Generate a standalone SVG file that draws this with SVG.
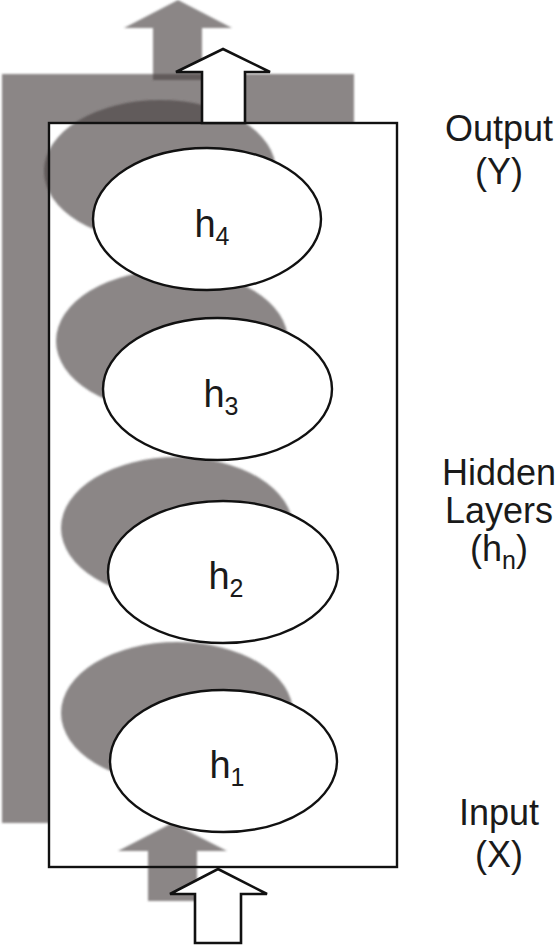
<svg xmlns="http://www.w3.org/2000/svg" width="559" height="945" viewBox="0 0 559 945">
<style>
.g{fill:#484444;fill-opacity:.64;stroke:none}
.node{fill:#fff;stroke:#111;stroke-width:2.4}
.arw{fill:#fff;stroke:#111;stroke-width:2.6;stroke-linejoin:miter}
.lbl{font-family:"Liberation Sans",Arial,sans-serif;font-size:36px;fill:#1a1a1a;text-anchor:middle}
.hl{font-size:38px}
.sub{font-size:25px}
</style>
<defs>
<filter id="soft" x="-5%" y="-5%" width="110%" height="110%"><feGaussianBlur stdDeviation="0.8"/></filter>
</defs>
<g id="background">
<rect class="g" x="2" y="74" width="352" height="749" filter="url(#soft)"/>
<rect x="49" y="123" width="348" height="744" fill="#fff"/>
</g>
<g id="shadows" filter="url(#soft)">
<ellipse class="g" cx="160" cy="171" rx="116" ry="71"/>
<ellipse class="g" cx="172" cy="341" rx="116" ry="71"/>
<ellipse class="g" cx="177" cy="528" rx="116" ry="71"/>
<ellipse class="g" cx="177" cy="713" rx="116" ry="71"/>
</g>
<g id="connectors">
<polygon class="g" filter="url(#soft)" points="178,0 232,28 202,28 202,80 153,80 153,28 124,28"/>
<polygon class="g" filter="url(#soft)" points="172,823 227,851 197,851 197,901 148,901 148,851 118,851"/>
</g>
<rect id="frame" x="49" y="123" width="348" height="744" fill="none" stroke="#111" stroke-width="2.4"/>
<g id="output-arrow">
<polygon class="arw" points="223,49 270,72 245,72 245,123 202,123 202,72 176,72"/>
</g>
<g id="input-arrow">
<polygon class="arw" points="218,869 267,894 241,894 241,943 195,943 195,894 170,894"/>
</g>
<g id="h4">
<ellipse class="node" cx="207" cy="219" rx="114" ry="71"/>
<text class="lbl hl" x="212" y="237">h<tspan class="sub" dy="8">4</tspan></text>
</g>
<g id="h3">
<ellipse class="node" cx="217.5" cy="389" rx="114.5" ry="71"/>
<text class="lbl hl" x="221" y="407">h<tspan class="sub" dy="8">3</tspan></text>
</g>
<g id="h2">
<ellipse class="node" cx="223" cy="572" rx="115" ry="71"/>
<text class="lbl hl" x="226" y="589">h<tspan class="sub" dy="8">2</tspan></text>
</g>
<g id="h1">
<ellipse class="node" cx="223.5" cy="761" rx="113.5" ry="71"/>
<text class="lbl hl" x="227" y="778">h<tspan class="sub" dy="8">1</tspan></text>
</g>
<g id="labels">
<text class="lbl" x="499" y="141">Output</text>
<text class="lbl" x="499" y="184">(Y)</text>
<text class="lbl" x="499" y="485">Hidden</text>
<text class="lbl" x="499" y="523">Layers</text>
<text class="lbl" x="499" y="561">(h<tspan class="sub" dy="8">n</tspan><tspan dy="-8">)</tspan></text>
<text class="lbl" x="499" y="825">Input</text>
<text class="lbl" x="499" y="867">(X)</text>
</g>
</svg>
